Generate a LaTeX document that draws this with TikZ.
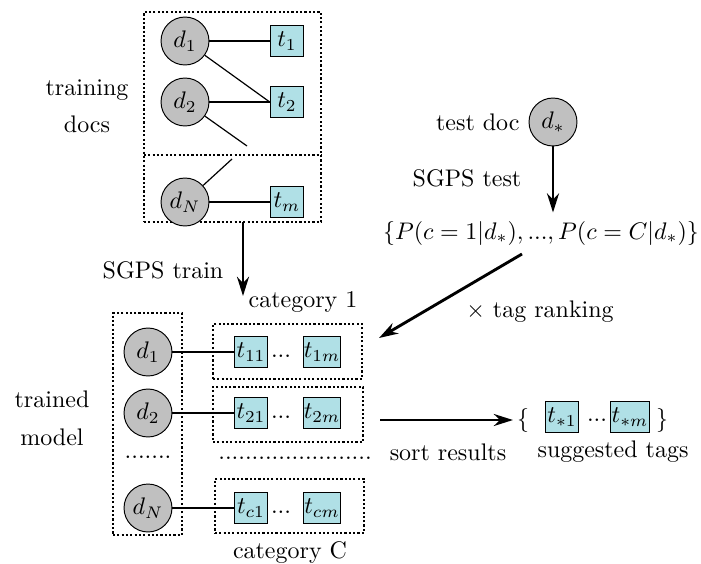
\documentclass[tikz,border=0pt]{standalone}
\usetikzlibrary{arrows.meta,fit}
\definecolor{tagcol}{RGB}{176,224,230}
\definecolor{doccol}{RGB}{192,192,192}
\begin{document}
\begin{tikzpicture}[x=0.417pt,y=-0.417pt,
  doc/.style={circle,draw,fill=doccol,minimum size=20pt,inner sep=0pt},
  tag/.style={rectangle,draw,fill=tagcol,minimum width=14pt,minimum height=13pt,inner sep=0.3pt},
  dotline/.style={line width=0.5pt,dash pattern=on 0.9pt off 0.9pt},
  grp/.style={draw,dotline,inner sep=0pt},
  link/.style={line width=0.5pt},
  flow/.style={line width=1.2pt,-{Stealth[length=8pt,width=5pt]}},
  lbl/.style={inner sep=0pt,align=center}]
\useasboundingbox (0,0) rectangle (701,563);

% ---------- training docs ----------
\node (topbox) [grp,fit={(144,12) (321,222)}] {};
\coordinate (divl) at (144,155);
\coordinate (divr) at (321,155);
\draw[dotline] (divl) -- (divr);
\node (td1) [doc] at (185,41) {$d_1$};
\node (td2) [doc] at (185,102) {$d_2$};
\node (tdN) [doc] at (185,202) {$d_N$};
\node (tt1) [tag] at (287,41) {$t_1$};
\node (tt2) [tag] at (287,102) {$t_2$};
\node (ttm) [tag] at (287,202) {$t_m$};
\draw[link] (td1) -- (tt1);
\draw[link] (td1) -- (tt2.west);
\draw[link] (td2) -- (tt2);
\coordinate (dang1) at (247,146);
\coordinate (dang2) at (232,159);
\draw[link] (td2) -- (dang1);
\draw[link] (tdN) -- (dang2);
\draw[link] (tdN) -- (ttm);
\node (trdocs) [lbl] at (87,106) {training\\[3.4pt]docs};

% ---------- train arrow ----------
\coordinate (trs) at (243,222);
\coordinate (tre) at (243,296);
\draw[flow] (trs) -- (tre);
\node (sgpstrain) [lbl] at (163,270) {SGPS train};

% ---------- trained model ----------
\node (leftbox) [grp,fit={(113,313) (182,535)}] {};
\node (m1) [doc] at (148,352) {$d_1$};
\node (m2) [doc] at (148,413) {$d_2$};
\node (mdots) [lbl] at (148,457) {.......};
\node (mN) [doc] at (148,508) {$d_N$};
\node (model) [lbl] at (52,418) {trained\\[4pt]model};

\node (cat1) [grp,fit={(213,324) (362,379)}] {};
\node (cat2) [grp,fit={(213,387) (363,442)}] {};
\node (catC) [grp,fit={(215,479) (364,533)}] {};
\node (catdots) [lbl] at (295,458) {.......................};
\node (cat1lbl) [lbl] at (303,302) {category 1};
\node (catClbl) [lbl] at (290,553) {category C};

\node (t11) [tag] at (251,352) {$t_{11}$};
\node (d11) [lbl] at (281,356) {...};
\node (t1m) [tag] at (322,352) {$t_{1m}$};
\node (t21) [tag] at (251,413) {$t_{21}$};
\node (d21) [lbl] at (281,417) {...};
\node (t2m) [tag] at (322,413) {$t_{2m}$};
\node (tc1) [tag] at (251,508) {$t_{c1}$};
\node (dc1) [lbl] at (281,512) {...};
\node (tcm) [tag] at (322,508) {$t_{cm}$};
\draw[link] (m1) -- (t11);
\draw[link] (m2) -- (t21);
\draw[link] (mN) -- (tc1);

% ---------- test side ----------
\node (dstar) [doc] at (553,122) {$d_*$};
\node (testdoc) [lbl,anchor=east] at (520,122) {test doc};
\node (sgpstest) [lbl] at (467,178) {SGPS test};
\node (probs) at (541,233) {$\{P(c=1|d_*),...,P(c=C|d_*)\}$};
\draw[flow] (dstar) -- (dstar |- probs.north);

\coordinate (rks) at (522,254);
\coordinate (rke) at (379,338);
\draw[flow] (rks) -- (rke);
\node (ranking) [lbl] at (540,312) {$\times$ tag ranking};

% ---------- sort results ----------
\coordinate (srs) at (380,420);
\coordinate (sre) at (513,420);
\draw[flow] (srs) -- (sre);
\node (sortlbl) [lbl] at (448,452) {sort results};
\node (lbrace) [lbl] at (523,420) {$\{$};
\node (ts1) [tag] at (562,417) {$t_{*1}$};
\node (sdots) [lbl] at (597,420) {...};
\node (tsm) [tag] at (630,417) {$t_{*m}$};
\node (rbrace) [lbl] at (662,420) {$\}$};
\node (sugg) [lbl] at (613,452) {suggested tags};
\end{tikzpicture}
\end{document}
